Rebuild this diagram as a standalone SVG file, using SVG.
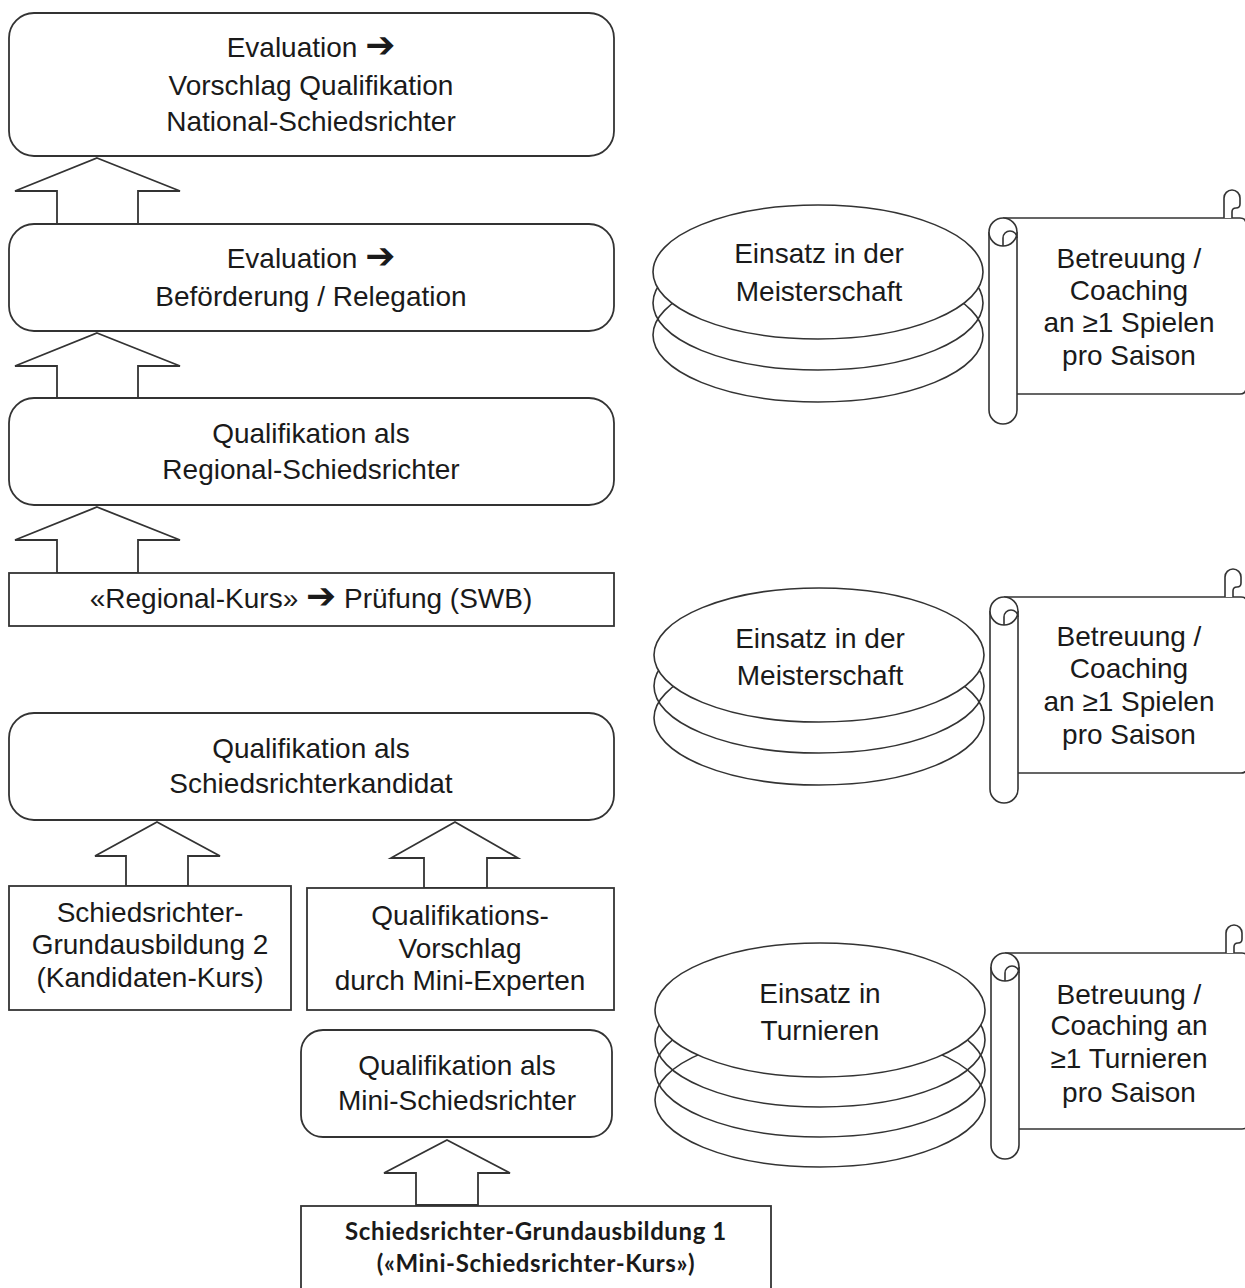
<svg xmlns="http://www.w3.org/2000/svg" width="1245" height="1288" viewBox="0 0 1245 1288">
<style>
.box{fill:#fff;stroke:#333;stroke-width:1.8}
.arr{fill:#fff;stroke:#333;stroke-width:1.8;stroke-linejoin:miter}
.ln{fill:none;stroke:#333;stroke-width:1.6}
.lnw{fill:#fff;stroke:#333;stroke-width:1.6}
.t{font-family:"Liberation Sans",Arial,sans-serif;font-size:28px;fill:#1a1a1a;text-anchor:middle}
.ar{font-family:"DejaVu Sans",sans-serif;font-size:36px}
.c{font-family:Lato,"Open Sans",sans-serif;font-size:24px;font-weight:bold;letter-spacing:0.6px;fill:#1a1a1a;text-anchor:middle}
</style>
<defs>
<g id="scroll">
<path class="lnw" d="M1003 0 L1240 0 Q1246 0 1246 6 L1246 170 Q1246 176 1240 176 L1017 176"/>
<path class="lnw" d="M1224 0 L1224 -20 A8 8 0 0 1 1240 -20 L1240 -14 Q1240 -10 1236 -10 Q1232 -10 1232 -6 L1232 0"/>
<path class="lnw" d="M989 14 L989 192 A14 14 0 0 0 1017 192 L1017 14"/>
<circle class="lnw" cx="1003" cy="14" r="14"/>
<path class="ln" d="M1003 28 L1003 20 A7 7 0 0 1 1017 20"/>
</g>
</defs>

<g id="connectors">
<path class="arr" d="M97 158 L180 191 L138 191 L138 224 L57 224 L57 191 L15 191 Z"/>
<path class="arr" d="M97 333 L180 366 L138 366 L138 398 L57 398 L57 366 L15 366 Z"/>
<path class="arr" d="M97 507 L180 540 L138 540 L138 573 L57 573 L57 540 L15 540 Z"/>
<path class="arr" d="M157 822 L220 856 L188 856 L188 886 L126 886 L126 856 L95 856 Z"/>
<path class="arr" d="M455 822 L518 858 L487 858 L487 888 L424 888 L424 858 L391 858 Z"/>
<path class="arr" d="M447 1140 L510 1173 L478 1173 L478 1205 L416 1205 L416 1173 L384 1173 Z"/>
</g>

<g id="node-national">
<rect class="box" x="9" y="13" width="605" height="143" rx="25"/>
<text class="t" x="311" y="57">Evaluation <tspan class="ar">➔</tspan></text>
<text class="t" x="311" y="95">Vorschlag Qualifikation</text>
<text class="t" x="311" y="131">National-Schiedsrichter</text>
</g>
<g id="node-befoerderung">
<rect class="box" x="9" y="224" width="605" height="107" rx="25"/>
<text class="t" x="311" y="268">Evaluation <tspan class="ar">➔</tspan></text>
<text class="t" x="311" y="306">Beförderung / Relegation</text>
</g>
<g id="node-regional">
<rect class="box" x="9" y="398" width="605" height="107" rx="25"/>
<text class="t" x="311" y="443">Qualifikation als</text>
<text class="t" x="311" y="479">Regional-Schiedsrichter</text>
</g>
<g id="node-regionalkurs">
<rect class="box" x="9" y="573" width="605" height="53"/>
<text class="t" x="311" y="608">«Regional-Kurs» <tspan class="ar">➔</tspan> Prüfung (SWB)</text>
</g>
<g id="node-kandidat">
<rect class="box" x="9" y="713" width="605" height="107" rx="25"/>
<text class="t" x="311" y="758">Qualifikation als</text>
<text class="t" x="311" y="793">Schiedsrichterkandidat</text>
</g>
<g id="node-grundausbildung2">
<rect class="box" x="9" y="886" width="282" height="124"/>
<text class="t" x="150" y="922">Schiedsrichter-</text>
<text class="t" x="150" y="954">Grundausbildung 2</text>
<text class="t" x="150" y="987">(Kandidaten-Kurs)</text>
</g>
<g id="node-vorschlag">
<rect class="box" x="307" y="888" width="307" height="122"/>
<text class="t" x="460" y="925">Qualifikations-</text>
<text class="t" x="460" y="958">Vorschlag</text>
<text class="t" x="460" y="990">durch Mini-Experten</text>
</g>
<g id="node-mini">
<rect class="box" x="301" y="1030" width="311" height="107" rx="22"/>
<text class="t" x="457" y="1075">Qualifikation als</text>
<text class="t" x="457" y="1110">Mini-Schiedsrichter</text>
</g>
<g id="node-grundausbildung1">
<rect class="box" x="301" y="1206" width="470" height="100"/>
<text class="c" x="536" y="1240">Schiedsrichter-Grundausbildung 1</text>
<text class="c" x="536" y="1272">(«Mini-Schiedsrichter-Kurs»)</text>
</g>

<g id="node-stack1">
<ellipse class="ln" cx="818" cy="335" rx="165" ry="67"/>
<ellipse class="ln" cx="818" cy="303" rx="165" ry="67"/>
<ellipse class="lnw" cx="818" cy="272" rx="165" ry="67"/>
<text class="t" x="819" y="263">Einsatz in der</text>
<text class="t" x="819" y="301">Meisterschaft</text>
</g>
<g id="node-stack2">
<ellipse class="ln" cx="819" cy="718" rx="165" ry="67"/>
<ellipse class="ln" cx="819" cy="686" rx="165" ry="67"/>
<ellipse class="lnw" cx="819" cy="655" rx="165" ry="67"/>
<text class="t" x="820" y="648">Einsatz in der</text>
<text class="t" x="820" y="685">Meisterschaft</text>
</g>
<g id="node-stack3">
<ellipse class="ln" cx="820" cy="1100" rx="165" ry="67"/>
<ellipse class="ln" cx="820" cy="1070" rx="165" ry="67"/>
<ellipse class="ln" cx="820" cy="1040" rx="165" ry="67"/>
<ellipse class="lnw" cx="820" cy="1010" rx="165" ry="67"/>
<text class="t" x="820" y="1003">Einsatz in</text>
<text class="t" x="820" y="1040">Turnieren</text>
</g>

<g id="node-scroll1">
<use href="#scroll" transform="translate(0,218)"/>
<text class="t" x="1129" y="268">Betreuung /</text>
<text class="t" x="1129" y="300">Coaching</text>
<text class="t" x="1129" y="332">an ≥1 Spielen</text>
<text class="t" x="1129" y="365">pro Saison</text>
</g>
<g id="node-scroll2">
<use href="#scroll" transform="translate(1,597)"/>
<text class="t" x="1129" y="646">Betreuung /</text>
<text class="t" x="1129" y="678">Coaching</text>
<text class="t" x="1129" y="711">an ≥1 Spielen</text>
<text class="t" x="1129" y="744">pro Saison</text>
</g>
<g id="node-scroll3">
<use href="#scroll" transform="translate(2,953)"/>
<text class="t" x="1129" y="1004">Betreuung /</text>
<text class="t" x="1129" y="1035">Coaching an</text>
<text class="t" x="1129" y="1068">≥1 Turnieren</text>
<text class="t" x="1129" y="1102">pro Saison</text>
</g>
</svg>
